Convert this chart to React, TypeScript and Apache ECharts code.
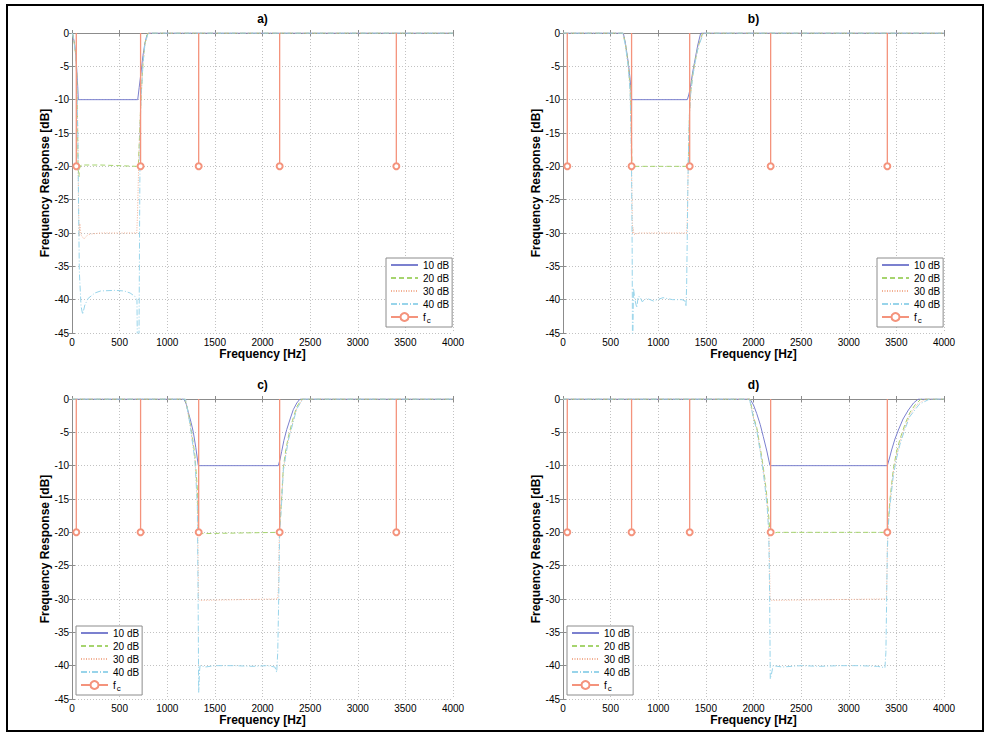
import React, { useEffect, useRef } from "react";
import * as echarts from "echarts";

// ---------- data ----------
const FC_HZ = [45, 720, 1330, 2180, 3405];
const FC_LEVEL_DB = -20;
const LEVEL_NAMES = ["10 dB", "20 dB", "30 dB", "40 dB"];
const FC_NAME = "f_c";
const PANEL_TITLES = ["a)", "b)", "c)", "d)"];
const X_MIN = 0, X_MAX = 4000, X_STEP = 500;
const Y_MIN = -45, Y_MAX = 0, Y_STEP = 5;

// a) band 45 - 720 Hz
const A_10 = [[0,0],[10,-0.3],[25,-1.5],[39,-3],[50,-5.5],[60,-8],[66,-10],[690,-10],[705,-8.2],[724,-6],[745,-3.4],[766,-1.5],[785,-0.4],[801,0],[4000,0]];
const A_20 = [[0,0],[10,-0.3],[25,-1.6],[39,-3.2],[50,-6],[57,-12],[63,-20],[72,-21.6],[80,-20.3],[95,-19.8],[300,-19.8],[680,-20],[696,-20],[710,-15],[724,-10],[745,-4.5],[766,-1.6],[785,-0.4],[801,0],[4000,0]];
const A_30 = [[0,0],[10,-0.3],[25,-1.6],[39,-3.3],[50,-6.5],[60,-14],[68,-25],[75,-30.5],[82,-28.6],[95,-30.3],[125,-30.9],[170,-30.2],[300,-30],[680,-30],[688,-27],[698,-21],[712,-14],[724,-10],[745,-4.6],[766,-1.6],[801,0],[4000,0]];
const A_40 = [[0,0],[10,-0.3],[25,-1.7],[39,-3.4],[50,-7],[62,-16],[70,-27],[77,-35.8],[95,-41],[112,-42.2],[135,-40.8],[170,-39.8],[240,-39],[300,-38.7],[450,-38.6],[550,-38.7],[610,-39],[660,-39.5],[682,-40],[688,-50],[702,-50],[710,-28],[716,-14],[724,-10],[745,-4.7],[766,-1.6],[801,0],[4000,0]];

// b) band 720 - 1330 Hz
const B_10 = [[0,0],[633,0],[655,-1.5],[686,-4.5],[705,-7],[721,-10],[1305,-10],[1320,-9.3],[1333,-8.5],[1360,-6],[1386,-4],[1415,-1.8],[1446,0],[4000,0]];
const B_20 = [[0,0],[630,0],[655,-1.6],[686,-4.8],[705,-8],[716,-13],[724,-20],[732,-20.4],[745,-20],[1300,-20],[1316,-20],[1322,-16],[1328,-12],[1335,-9.5],[1360,-6.4],[1386,-4.3],[1420,-2],[1465,0],[4000,0]];
const B_30 = [[0,0],[628,0],[655,-1.7],[686,-5],[705,-8.5],[716,-15],[724,-24],[730,-30],[736,-29.2],[745,-30.2],[800,-30],[1298,-30],[1305,-28],[1312,-22],[1320,-16],[1328,-12],[1336,-9.6],[1360,-6.6],[1386,-4.4],[1420,-2],[1470,0],[4000,0]];
const B_40 = [[0,0],[626,0],[655,-1.8],[686,-5.2],[705,-9],[718,-18],[726,-32],[730,-50],[736,-50],[740,-38.3],[755,-40],[774,-41.2],[790,-39.5],[810,-39.6],[830,-40.3],[880,-39.8],[950,-40.2],[1050,-39.7],[1150,-40],[1250,-40],[1281,-40.2],[1291,-41],[1298,-38],[1305,-30],[1312,-22],[1320,-16],[1328,-12],[1336,-9.7],[1360,-6.7],[1386,-4.5],[1420,-2.1],[1475,0],[4000,0]];

// c) band 1330 - 2180 Hz
const C_10 = [[0,0],[1176,0],[1200,-0.8],[1221,-2],[1250,-3.5],[1274,-5],[1300,-7.3],[1326,-10],[2166,-10],[2185,-9],[2201,-7.9],[2225,-6.2],[2254,-4.6],[2290,-3],[2323,-1.6],[2360,-0.6],[2394,0],[4000,0]];
const C_20 = [[0,0],[1186,0],[1210,-1.3],[1239,-3.5],[1265,-5.8],[1291,-8.5],[1316,-13.5],[1326,-20],[1340,-20.2],[2177,-20],[2190,-17.5],[2201,-14.7],[2219,-10.2],[2245,-7.6],[2271,-5.7],[2315,-3.2],[2359,-1.2],[2410,0],[4000,0]];
const C_30 = [[0,0],[1190,0],[1239,-3.7],[1291,-9],[1316,-15],[1322,-22],[1328,-30],[1340,-30.2],[2160,-30],[2168,-28],[2174,-22],[2180,-18],[2201,-15.3],[2219,-10.5],[2271,-6],[2359,-1.4],[2420,0],[4000,0]];
const C_40 = [[0,0],[1192,0],[1239,-3.8],[1291,-9.3],[1316,-16],[1324,-30],[1330,-44],[1338,-41],[1344,-40],[1400,-40.2],[1500,-40],[1700,-40],[1900,-40.1],[2050,-40],[2130,-40.2],[2149,-41],[2160,-38],[2170,-30],[2180,-20],[2201,-15.5],[2219,-10.7],[2271,-6.2],[2359,-1.5],[2425,0],[4000,0]];

// d) band 2180 - 3405 Hz
const D_10 = [[0,0],[1963,0],[2000,-0.9],[2033,-2.15],[2070,-3.8],[2103,-5.65],[2140,-7.8],[2173,-10],[3405,-10],[3425,-9],[3450,-7.65],[3485,-6],[3521,-4.65],[3570,-3],[3626,-1.65],[3680,-0.6],[3731,0],[4000,0]];
const D_20 = [[0,0],[1963,0],[1998,-2.6],[2033,-4.2],[2086,-8.6],[2120,-12],[2145,-15.2],[2162,-18],[2173,-20],[2190,-20.2],[2250,-20],[3405,-20],[3420,-17.5],[3433,-15],[3468,-10.5],[3500,-8],[3538,-6],[3590,-3.8],[3643,-2],[3700,-0.8],[3760,0],[4000,0]];
const D_30 = [[0,0],[1960,0],[1998,-2.7],[2033,-4.4],[2086,-9],[2120,-12.6],[2145,-16],[2160,-19.5],[2168,-24],[2174,-30],[2190,-30.2],[3395,-30],[3400,-27],[3405,-22],[3415,-18.5],[3433,-15.5],[3468,-11],[3500,-8.5],[3538,-6.4],[3590,-4.2],[3643,-2.3],[3720,-0.8],[3810,0],[4000,0]];
const D_40 = [[0,0],[1958,0],[1998,-2.8],[2033,-4.6],[2086,-9.3],[2120,-13],[2145,-16.5],[2160,-20],[2170,-30],[2176,-42],[2191,-41.1],[2205,-40],[2300,-40.2],[2500,-40],[2700,-40.1],[2900,-40],[3100,-40],[3300,-40.1],[3380,-40.3],[3390,-38],[3398,-30],[3405,-23],[3415,-19],[3433,-16],[3468,-11.5],[3500,-9],[3538,-6.8],[3590,-4.5],[3643,-2.6],[3740,-0.8],[3850,0],[4000,0]];

const PANEL_CURVES = [
  [A_10, A_20, A_30, A_40],
  [B_10, B_20, B_30, B_40],
  [C_10, C_20, C_30, C_40],
  [D_10, D_20, D_30, D_40],
];

// ---------- layout / style ----------
const PLOT_W = 381, PLOT_H = 300;
const PANEL_POS = [
  { left: 72, top: 33, legendLeft: 386, legendTop: 258 },
  { left: 563, top: 33, legendLeft: 877, legendTop: 258 },
  { left: 72, top: 399, legendLeft: 76, legendTop: 626 },
  { left: 563, top: 399, legendLeft: 567, legendTop: 626 },
];
const CURVE_STYLES = [
  { color: "#7b80cf", type: "solid" },
  { color: "#a6d46e", type: [5, 3] },
  { color: "#f2b093", type: [1, 1.5] },
  { color: "#98d4ea", type: [6, 2, 1, 2] },
];
const FC_COLOR = "#f4937c";
const AXIS_COLOR = "#8c8c8c";
const GRID_COLOR = "#c2c2c2";
const FONT = "'Liberation Sans', Arial, Helvetica, sans-serif";

function buildOption() {
  const grid: any[] = [];
  const xAxis: any[] = [];
  const yAxis: any[] = [];
  const series: any[] = [];
  const legend: any[] = [];
  const title: any[] = [];

  PANEL_POS.forEach((p, i) => {
    grid.push({ left: p.left, top: p.top, width: PLOT_W, height: PLOT_H, show: false });
    const common = { type: "value", gridIndex: i };
    xAxis.push({
      ...common, min: X_MIN, max: X_MAX, interval: X_STEP, position: "bottom",
      axisLine: { show: true, lineStyle: { color: AXIS_COLOR, width: 1 } },
      axisTick: { show: true, inside: true, length: 3, lineStyle: { color: AXIS_COLOR } },
      axisLabel: { color: "#000", fontSize: 10, margin: 4, fontFamily: FONT, showMinLabel: true, showMaxLabel: true, formatter: (v: number) => String(v) },
      splitLine: { show: true, lineStyle: { color: GRID_COLOR, type: [1, 2], width: 1 } },
      name: "Frequency [Hz]", nameLocation: "middle", nameGap: 15,
      nameTextStyle: { color: "#000", fontSize: 12, fontWeight: "bold", fontFamily: FONT },
    });
    xAxis.push({
      ...common, min: X_MIN, max: X_MAX, interval: X_STEP, position: "top",
      axisLine: { show: true, lineStyle: { color: AXIS_COLOR, width: 1 } },
      axisTick: { show: true, inside: true, length: 3, lineStyle: { color: AXIS_COLOR } },
      axisLabel: { show: false }, splitLine: { show: false },
    });
    yAxis.push({
      ...common, min: Y_MIN, max: Y_MAX, interval: Y_STEP, position: "left",
      axisLine: { show: true, lineStyle: { color: AXIS_COLOR, width: 1 } },
      axisTick: { show: true, inside: true, length: 3, lineStyle: { color: AXIS_COLOR } },
      axisLabel: { color: "#000", fontSize: 10, margin: 3, fontFamily: FONT, showMinLabel: true, showMaxLabel: true, formatter: (v: number) => String(v) },
      splitLine: { show: true, lineStyle: { color: GRID_COLOR, type: [1, 2], width: 1 } },
      name: "Frequency Response [dB]", nameLocation: "middle", nameGap: 21, nameRotate: 90,
      nameTextStyle: { color: "#000", fontSize: 12, fontWeight: "bold", fontFamily: FONT },
    });
    yAxis.push({
      ...common, min: Y_MIN, max: Y_MAX, interval: Y_STEP, position: "right",
      axisLine: { show: true, lineStyle: { color: AXIS_COLOR, width: 1 } },
      axisTick: { show: true, inside: true, length: 3, lineStyle: { color: AXIS_COLOR } },
      axisLabel: { show: false }, splitLine: { show: false },
    });

    PANEL_CURVES[i].forEach((data, k) => {
      series.push({
        type: "line", name: LEVEL_NAMES[k], xAxisIndex: 2 * i, yAxisIndex: 2 * i,
        data, symbol: "none", showSymbol: false, smooth: false, clip: true,
        lineStyle: { color: CURVE_STYLES[k].color, type: CURVE_STYLES[k].type, width: 1 },
        itemStyle: { color: CURVE_STYLES[k].color },
        emphasis: { disabled: true }, silent: true, z: 2 + k,
      });
    });
    FC_HZ.forEach((f) => {
      series.push({
        type: "line", name: FC_NAME, xAxisIndex: 2 * i, yAxisIndex: 2 * i,
        data: [[f, 0], [f, FC_LEVEL_DB]],
        symbol: "emptyCircle", showSymbol: true,
        symbolSize: (v: number[]) => (v && v[1] === 0 ? 0 : 6),
        lineStyle: { color: FC_COLOR, width: 1.3 },
        itemStyle: { color: FC_COLOR, borderWidth: 1 },
        emphasis: { disabled: true }, silent: true, z: 10, clip: false,
      });
    });

    legend.push({
      orient: "vertical", left: p.legendLeft, top: p.legendTop,
      data: [
        ...LEVEL_NAMES.map((n) => ({ name: n, itemStyle: { opacity: 0 } })),
        { name: FC_NAME, itemStyle: { borderWidth: 1 } },
      ],
      selectedMode: false,
      itemWidth: 27, itemHeight: 10, itemGap: 3,
      padding: [2, 3, 3, 4],
      backgroundColor: "#fff", borderColor: AXIS_COLOR, borderWidth: 1, borderRadius: 0,
      textStyle: {
        color: "#000", fontSize: 10, fontFamily: FONT,
        rich: { sub: { fontSize: 8, fontFamily: FONT, color: "#000", padding: [6, 0, 0, 1] } },
      },
      formatter: (name: string) => (name === FC_NAME ? "f{sub|c}" : name),
    });

    title.push({
      text: PANEL_TITLES[i], left: p.left + PLOT_W / 2, top: p.top - 20, textAlign: "center",
      textStyle: { color: "#000", fontSize: 12, fontWeight: "bold", fontFamily: FONT },
      padding: 0,
    });
  });

  return {
    animation: false,
    backgroundColor: "#fff",
    title, grid, xAxis, yAxis, series, legend,
    graphic: [
      { type: "rect", shape: { x: 7, y: 5, width: 976, height: 726 }, style: { fill: "none", stroke: "#000", lineWidth: 2 }, silent: true },
    ],
  };
}

export default function App() {
  const ref = useRef<HTMLDivElement>(null);
  useEffect(() => {
    if (!ref.current) return;
    const chart = echarts.init(ref.current, undefined, { renderer: "svg" });
    chart.setOption(buildOption() as any);
    return () => chart.dispose();
  }, []);
  return <div ref={ref} style={{ position: "absolute", left: 0, top: 0, width: 990, height: 736, background: "#fff" }} />;
}
